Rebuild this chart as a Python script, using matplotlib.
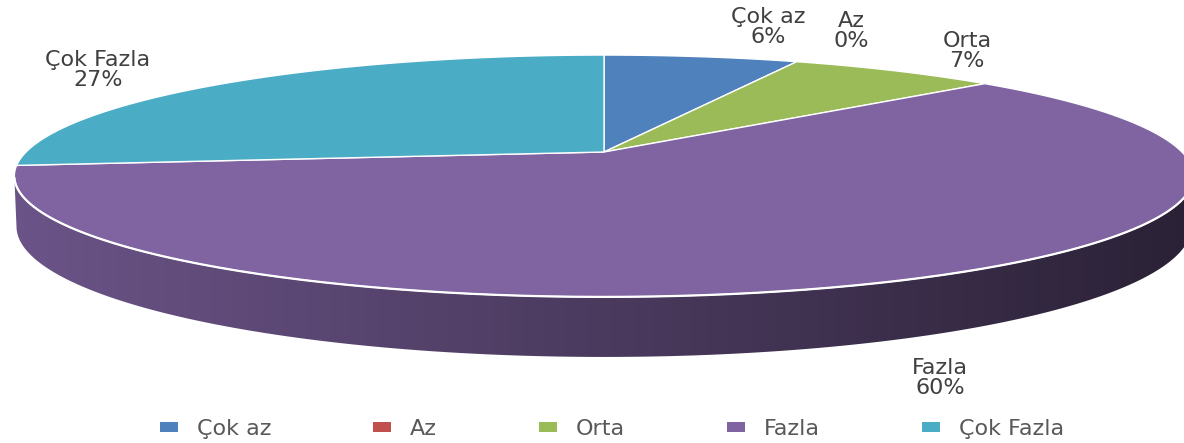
import numpy as np
import matplotlib
matplotlib.use("Agg")
import matplotlib.pyplot as plt
from matplotlib.patches import Polygon, Rectangle

# ---- data ----
categories = ["Çok az", "Az", "Orta", "Fazla", "Çok Fazla"]
values = [6.45, 0.0, 6.95, 59.8, 26.8]
colors = ["#4F81BD", "#C0504D", "#9BBB59", "#8064A2", "#4BACC6"]

# ---- layout ----
W, H = 1184, 443
label_pos = [(768, 27), (851, 31), (967, 51), (940, 378), (98, 70)]
CX, CY = 604, 152          # pie centre on screen (px)
F, D = 2855.0, 4.94        # perspective focal length / distance
ELEV = np.arcsin(0.201)    # elevation angle
C, S = np.cos(ELEV), np.sin(ELEV)
THICK = 0.0863             # pie thickness (radius units)

fig = plt.figure(figsize=(W / 100, H / 100), dpi=100)
ax = fig.add_axes([0, 0, 1, 1])
ax.set_xlim(0, W)
ax.set_ylim(H, 0)
ax.axis("off")


def proj(theta_deg, r=1.0, z=0.0):
    t = np.radians(theta_deg)
    u, v = r * np.sin(t), r * np.cos(t)
    yc = v * S + z * C
    zc = D + v * C - z * S
    return CX + F * u / zc, CY - F * yc / zc


def shade(x):
    return np.clip(0.84 - 0.000425 * x, 0.3, 1.0)


total = float(sum(values))
fracs = [v / total for v in values]
bounds = np.concatenate([[0.0], np.cumsum(fracs)]) * 360.0

# visible part of the cylinder wall
vis_lo = np.degrees(np.arccos(-1.0 / (D * C)))
vis_hi = 360.0 - vis_lo

# ---- side walls ----
for i, col in enumerate(colors):
    a, b = max(bounds[i], vis_lo), min(bounds[i + 1], vis_hi)
    if b <= a:
        continue
    th = np.linspace(a, b, 300)
    tx, ty = proj(th)
    bx, by = proj(th, z=-THICK)
    pts = np.column_stack([np.concatenate([tx, bx[::-1]]),
                           np.concatenate([ty, by[::-1]])])
    poly = Polygon(pts, closed=True, facecolor="none", edgecolor="none")
    ax.add_patch(poly)
    base = np.array(matplotlib.colors.to_rgb(col))
    xs = np.linspace(0, W, 600)
    grad = (base[None, :] * shade(xs)[:, None])[None, :, :]
    im = ax.imshow(grad, extent=(0, W, H, 0), aspect="auto",
                   interpolation="bilinear", zorder=1)
    im.set_clip_path(poly)
    ax.plot(tx, ty, color="white", lw=1.6, zorder=3, solid_capstyle="butt")

# ---- top faces ----
vx, vy = proj(0.0, r=0.0)
for i, col in enumerate(colors):
    a, b = bounds[i], bounds[i + 1]
    if b - a <= 0:
        continue
    th = np.linspace(a, b, max(4, int((b - a) * 3)))
    ax_, ay_ = proj(th)
    pts = np.column_stack([np.concatenate([[vx], ax_]),
                           np.concatenate([[vy], ay_])])
    ax.add_patch(Polygon(pts, closed=True, facecolor=col,
                         edgecolor="white", lw=1.0, zorder=2))

# ---- data labels ----
for name, fr, (lx, ly) in zip(categories, fracs, label_pos):
    ax.text(lx, ly, f"{name}\n{fr * 100:.0f}%", ha="center", va="center",
            multialignment="center", fontsize=16, color="#404040",
            linespacing=1.0, zorder=5)

# ---- legend ----
handles = [Rectangle((0, 0), 1, 1, facecolor=c, edgecolor="none") for c in colors]
fig.legend(handles, categories, ncol=5, loc="center",
           bbox_to_anchor=(612 / W, 1 - 429 / H), frameon=False, fontsize=16,
           handlelength=0.8, handleheight=0.35, handletextpad=0.85,
           columnspacing=4.6, labelcolor="#595959")

fig.savefig("out.png", dpi=100)
